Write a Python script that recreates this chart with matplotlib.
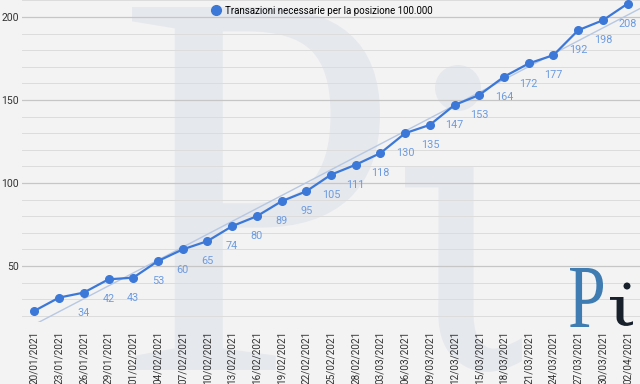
import numpy as np
import matplotlib
matplotlib.use("Agg")
import matplotlib.pyplot as plt
from matplotlib.lines import Line2D
from matplotlib.patches import PathPatch, Circle
from matplotlib.textpath import TextPath
from matplotlib.font_manager import FontProperties
from matplotlib.transforms import Affine2D, IdentityTransform

# dati
dates = ["20/01/2021", "23/01/2021", "26/01/2021", "29/01/2021", "01/02/2021",
         "04/02/2021", "07/02/2021", "10/02/2021", "13/02/2021", "16/02/2021",
         "19/02/2021", "22/02/2021", "25/02/2021", "28/02/2021", "03/03/2021",
         "06/03/2021", "09/03/2021", "12/03/2021", "15/03/2021", "18/03/2021",
         "21/03/2021", "24/03/2021", "27/03/2021", "30/03/2021", "02/04/2021"]
values = [23, 31, 34, 42, 43, 53, 60, 65, 74, 80, 89, 95, 105, 111, 118,
          130, 135, 147, 153, 164, 172, 177, 192, 198, 208]
label_from = 2  # i primi due punti non hanno etichetta
series_name = "Transazioni necessarie per la posizione 100.000"
yticks = [50, 100, 150, 200]

W, H = 640, 384
plt.rcParams['font.family'] = ['Roboto', 'DejaVu Sans']

fig = plt.figure(figsize=(W / 100, H / 100), dpi=100, facecolor='#f3f3f3')
ax = fig.add_axes([22 / W, 1 - 322 / H, 618 / W, 322 / H])
ax.set_facecolor('none')


def glyph(s, family, box, color, z):
    tp = TextPath((0, 0), s, size=100, prop=FontProperties(family=family))
    ext = tp.get_extents()
    x0, y0, x1, y1 = box
    tr = (Affine2D().translate(-ext.x0, -ext.y0)
          .scale((x1 - x0) / ext.width, (y1 - y0) / ext.height)
          .translate(x0, H - y1))
    fig.add_artist(PathPatch(tr.transform_path(tp), fc=color, lw=0, zorder=z,
                             transform=IdentityTransform()))


def dot(x, y, r, color, z):
    fig.add_artist(Circle((x, H - y), r, fc=color, lw=0, zorder=z,
                          transform=IdentityTransform()))


# watermark
wm = '#e5e8ed'
glyph("P", "Liberation Serif", (132, 7, 380, 370), wm, -1)
glyph("ι", "DejaVu Serif", (405, 167, 522, 372), wm, -1)
dot(458, 88, 23, wm, -1)

x = np.arange(len(values))
ax.set_xlim(-0.5, len(values) - 0.5)
ax.set_ylim(16.3, 210.2)

# griglia
ax.set_yticks(yticks)
ax.set_yticks([v for v in range(20, 211, 10) if v not in yticks], minor=True)
ax.grid(axis='y', which='major', color='#c6c6c6', lw=0.9)
ax.grid(axis='y', which='minor', color='#dcdcdc', lw=0.7)
ax.set_axisbelow(True)
for s in ax.spines.values():
    s.set_visible(False)

# trend lineare
k, q = np.polyfit(x, values, 1)
xt = np.array([0, len(values) - 0.5])
ax.plot(xt, k * xt + q, color='#b7c8e3', lw=1.0, zorder=2)

ax.plot(x, values, color='#3c78d8', lw=1.6, marker='o', ms=5.5, zorder=3)
for i in range(label_from, len(values)):
    ax.annotate(str(values[i]), (x[i], values[i]), xytext=(0, -14.5),
                textcoords='offset points', ha='center', va='center',
                fontsize=7.8, color='#6d9be0', zorder=4)

ax.set_xticks(x)
ax.set_xticklabels(dates, rotation=90, fontsize=7.2, color='#333333')
ax.tick_params(axis='x', length=0, pad=6)
ax.tick_params(axis='y', which='both', length=0, pad=2, labelsize=7.5,
               labelcolor='#333333')

h = Line2D([], [], color='#3c78d8', marker='o', ls='none', ms=7)
ax.legend([h], [series_name], loc='upper center', bbox_to_anchor=(0.485, 1.0),
          frameon=False, fontsize=7, handletextpad=0.3, borderaxespad=0.2,
          handlelength=1.2)

# logo
glyph("P", "Liberation Serif", (570, 268, 603, 327), '#3e7cb1', 5)
glyph("ι", "DejaVu Serif", (610, 297, 633, 326), '#17202b', 5)
dot(627, 286, 3.5, '#17202b', 5)

fig.savefig("out.png", dpi=100, facecolor=fig.get_facecolor())
